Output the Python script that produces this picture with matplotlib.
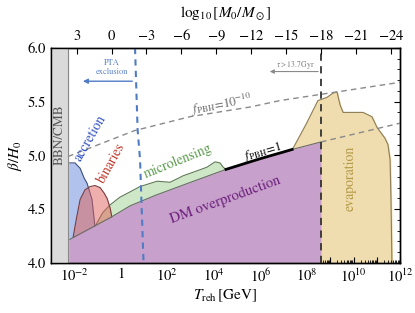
import numpy as np
import matplotlib
matplotlib.use("Agg")
import matplotlib.pyplot as plt
from matplotlib.ticker import FixedLocator, FuncFormatter, MultipleLocator

plt.rcParams['font.family'] = ['STIXGeneral', 'DejaVu Serif']
plt.rcParams['mathtext.fontset'] = 'stix'

# --- data (log10 T_reh [GeV], beta/H0) ---
bbn_edge = -2.27

dm_logT = [-3.0, -2.27, -1.11, -0.38, 0.39, 1.5, 3.0, 4.52, 6.0, 7.36, 8.6]
dm_beta = [4.12, 4.21, 4.345, 4.43, 4.53, 4.63, 4.75, 4.87, 4.97, 5.055, 5.125]

fpbh1_logT = [4.52, 6.0, 7.36]
fpbh1_beta = [4.87, 4.97, 5.055]

fpbh1_dash_logT = [8.6, 12.0]
fpbh1_dash_beta = [5.125, 5.30]

f1e10_logT = [-2.27, 0.58, 2.97, 5.55, 6.84, 12.0]
f1e10_beta = [4.99, 5.23, 5.36, 5.45, 5.51, 5.68]

acc_logT = [-2.27, -1.97, -1.75, -1.58, -1.45, -1.24, -1.11]
acc_beta = [4.93, 4.93, 4.88, 4.79, 4.74, 4.59, 4.33]

bin_logT = [-2.05, -1.92, -1.75, -1.54, -1.32, -1.11, -0.89, -0.72, -0.59, -0.46, -0.38]
bin_beta = [4.24, 4.40, 4.59, 4.68, 4.71, 4.72, 4.70, 4.65, 4.60, 4.51, 4.42]

mic_logT = [-1.11, -0.77, -0.46, -0.05, 0.39, 0.82, 1.56, 2.11, 2.4, 2.67, 3.19, 3.70, 4.05, 4.26, 4.4, 4.52]
mic_beta = [4.34, 4.47, 4.54, 4.61, 4.66, 4.71, 4.76, 4.75, 4.78, 4.81, 4.85, 4.89, 4.94, 4.93, 4.89, 4.87]

eva_logT = [7.36, 7.96, 8.47, 8.86, 9.12, 9.29, 9.42, 9.55, 9.85, 10.41, 10.79, 11.01, 11.35, 11.48, 11.57, 11.61, 11.65]
eva_beta = [5.05, 5.29, 5.51, 5.54, 5.58, 5.59, 5.47, 5.40, 5.40, 5.40, 5.36, 5.26, 5.16, 5.10, 4.96, 4.59, 4.0]

pta_logT = [0.61, 0.72, 0.825, 0.975]
pta_beta = [6.0, 5.24, 4.96, 4.0]

lifetime_logT = 8.6

fig = plt.figure(figsize=(4.15, 3.13), dpi=100)
ax = fig.add_axes([0.123, 0.160, 0.841, 0.687])
ax.set_xscale('log')

T = lambda a: 10.0 ** np.asarray(a)

# constraint regions (filled down to 4, DM region drawn on top)
ax.fill_between(T(eva_logT), eva_beta, 4.0, color='#efdcaf', zorder=1)
ax.plot(T(eva_logT), eva_beta, color='#8c7d55', lw=0.8, zorder=1.1)

ax.fill_between(T(mic_logT), mic_beta, 4.0, color='#9fd08f', alpha=0.5, lw=0, zorder=1)
ax.plot(T(mic_logT), mic_beta, color='#5f7a55', lw=0.8, zorder=1.1)

ax.fill_between(T(acc_logT), acc_beta, 4.0, color='#7d9be0', alpha=0.6, lw=0, zorder=1.2)
ax.plot(T(acc_logT), acc_beta, color='#3d4f80', lw=0.8, zorder=1.3)

ax.fill_between(T(bin_logT), bin_beta, 4.0, color='#e0605a', alpha=0.5, lw=0, zorder=1.4)
ax.plot(T(bin_logT), bin_beta, color='#7a3a3a', lw=0.8, zorder=1.5)

ax.fill_between(T(dm_logT), dm_beta, 4.0, color='#c8a0cc', lw=0, zorder=2)
ax.plot(T(dm_logT), dm_beta, color='#6a6a6a', lw=0.8, zorder=2.1)
ax.plot(T(fpbh1_logT), fpbh1_beta, color='black', lw=2.0, zorder=2.2)

# BBN/CMB band
ax.axvspan(1e-3, T(bbn_edge), color='#dadada', zorder=3)
ax.axvline(T(bbn_edge), color='#8a8a8a', lw=0.8, zorder=3.1)

# dashed lines
ax.plot(T(f1e10_logT), f1e10_beta, color='#8a8a8a', lw=1.0, ls=(0, (4, 3)), zorder=4)
ax.plot(T(fpbh1_dash_logT), fpbh1_dash_beta, color='#8a8a8a', lw=1.0, ls=(0, (4, 3)), zorder=4)
ax.plot(T(pta_logT), pta_beta, color='#4f7cc4', lw=1.5, ls=(0, (3, 2.5)), zorder=4)
ax.axvline(T(lifetime_logT), color='#333333', lw=1.3, ls=(0, (4, 3)), zorder=4)

# arrows
ax.annotate('', xy=(T(-1.75), 5.69), xytext=(T(0.61), 5.69),
            arrowprops=dict(arrowstyle='-|>', color='#4f7cc4', lw=1.0, mutation_scale=7), zorder=5)
ax.text(T(-0.38), 5.82, 'PTA\nexclusion', color='#5a80c8', fontsize=6, ha='center', va='center',
        linespacing=1.1, zorder=5)
ax.annotate('', xy=(T(6.28), 5.78), xytext=(T(8.6), 5.78),
            arrowprops=dict(arrowstyle='-|>', color='#8a8a8a', lw=0.8, mutation_scale=6), zorder=5)
ax.text(T(7.5), 5.84, r'$\tau>13.7\,$Gyr', color='#777777', fontsize=5.5, ha='center', va='center', zorder=5)

# region labels
ax.text(T(-2.62), 5.19, 'BBN/CMB', rotation=90, color='#555555', fontsize=9.5, ha='center', va='center', zorder=5)
ax.text(T(-1.32), 5.16, 'accretion', rotation=60, color='#2f4fc0', fontsize=10, ha='center', va='center', zorder=5)
ax.text(T(-0.42), 4.93, 'binaries', rotation=61, color='#c0392b', fontsize=10, ha='center', va='center', zorder=5)
ax.text(T(2.46), 4.95, 'microlensing', rotation=22, color='#5a9a4a', fontsize=10, ha='center', va='center', zorder=5)
ax.text(T(4.48), 4.59, 'DM overproduction', rotation=20, color='#6b1f7b', fontsize=10.5, ha='center', va='center', zorder=5)
ax.text(T(9.85), 4.79, 'evaporation', rotation=90, color='#b39a45', fontsize=10, ha='center', va='center', zorder=5)
ax.text(T(4.35), 5.47, r'$f_{\rm PBH}\!=\!10^{-10}$', rotation=10, color='#666666', fontsize=9, ha='center', va='center', zorder=5)
ax.text(T(6.1), 5.03, r'$f_{\rm PBH}\!=\!1$', rotation=16, color='black', fontsize=9, ha='center', va='center', zorder=5)

# axes
ax.set_xlim(1e-3, 1e12)
ax.set_ylim(4.0, 6.0)
decades = np.arange(-3, 13)
ax.xaxis.set_major_locator(FixedLocator(10.0 ** decades))
ax.xaxis.set_minor_locator(FixedLocator([m * 10.0 ** d for d in decades for m in range(2, 10)]))
def xfmt(v, pos):
    e = int(round(np.log10(v)))
    if e % 2:
        return ''
    if e == 0:
        return '1'
    return r'$10^{%d}$' % e
ax.xaxis.set_major_formatter(FuncFormatter(xfmt))
ax.yaxis.set_major_locator(MultipleLocator(0.5))
ax.yaxis.set_minor_locator(MultipleLocator(0.1))
ax.yaxis.set_major_formatter(FuncFormatter(lambda v, p: '%.1f' % v))
ax.tick_params(which='both', direction='in', top=False, right=True, labelsize=10.5)
ax.tick_params(which='major', length=4, width=0.8)
ax.tick_params(which='minor', length=2, width=0.6)
ax.set_xlabel(r'$T_{\rm reh}\,[\mathrm{GeV}]$', fontsize=11, labelpad=2)
ax.set_ylabel(r'$\beta/H_0$', fontsize=11, labelpad=3)

top = ax.twiny()
top.set_xlim(5.2, -24.8)
top.xaxis.set_major_locator(FixedLocator(np.arange(3, -25, -3)))
top.xaxis.set_major_formatter(FuncFormatter(lambda v, p: r'$%d$' % v if v >= 0 else r'$-%d$' % -v))
top.tick_params(direction='in', length=4, width=0.8, labelsize=10.5)
top.set_xlabel(r'$\log_{10}[M_0/M_\odot]$', fontsize=11, labelpad=8)

for s in list(ax.spines.values()) + list(top.spines.values()):
    s.set_linewidth(1.0)

fig.savefig('out.png', dpi=100)
